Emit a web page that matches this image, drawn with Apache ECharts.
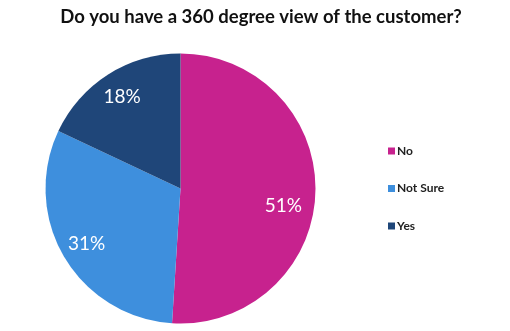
<!DOCTYPE html>
<html><head><meta charset="utf-8">
<script src="https://cdn.jsdelivr.net/npm/echarts@6/dist/echarts.min.js"></script>
<style>html,body{margin:0;padding:0;background:#fff}#c{width:510px;height:331px}</style>
</head><body><div id="c"></div>
<script>
const titleText = "Do you have a 360 degree view of the customer?";
const categories = ["No", "Not Sure", "Yes"];
const values = [51, 31, 18];
const colors = ["#C7228E", "#3E8FDD", "#1F4679"];

const data = categories.map((n, i) => ({ name: n, value: values[i], itemStyle: { color: colors[i] } }));
const chart = echarts.init(document.getElementById('c'), null, { renderer: 'canvas' });
chart.setOption({
  backgroundColor: '#fff',
  animation: false,
  title: {
    text: titleText, left: 256, top: 3, textAlign: 'center',
    textStyle: { fontFamily: 'Lato', fontWeight: 'bold', fontSize: 18.5, color: '#111' }
  },
  legend: {
    orient: 'vertical', left: 383, top: 140,
    itemWidth: 7, itemHeight: 7, itemGap: 25.5, icon: 'rect',
    data: categories,
    textStyle: { fontFamily: 'Lato', fontWeight: 'bold', fontSize: 12, color: '#222', padding: [0, 0, 0, -3] }
  },
  series: [{
    type: 'pie', center: [180.5, 188.5], radius: [0, 135], startAngle: 90, clockwise: true,
    label: { show: false }, labelLine: { show: false }, silent: true,
    itemStyle: { borderWidth: 0 },
    data: data
  }, {
    type: 'pie', center: [180.5, 188.5], radius: [77, 135], startAngle: 90, clockwise: true,
    silent: true, legendHoverLink: false,
    itemStyle: { color: 'rgba(0,0,0,0)', borderWidth: 0 },
    label: {
      show: true, position: 'inside', formatter: '{c}%', color: '#fff', fontFamily: 'Lato', fontSize: 19,
      rich: { s: { height: 28, fontSize: 1, color: 'rgba(0,0,0,0)' }, v: { color: '#fff', fontFamily: 'Lato', fontSize: 19 } }
    },
    labelLine: { show: false },
    data: categories.map((n, i) => i === 0
      ? { name: n, value: values[i], label: { formatter: '{s|.}\n{v|{c}%}', padding: [0, 12, 0, 0] } }
      : { name: n, value: values[i] })
  }]
});
</script></body></html>
